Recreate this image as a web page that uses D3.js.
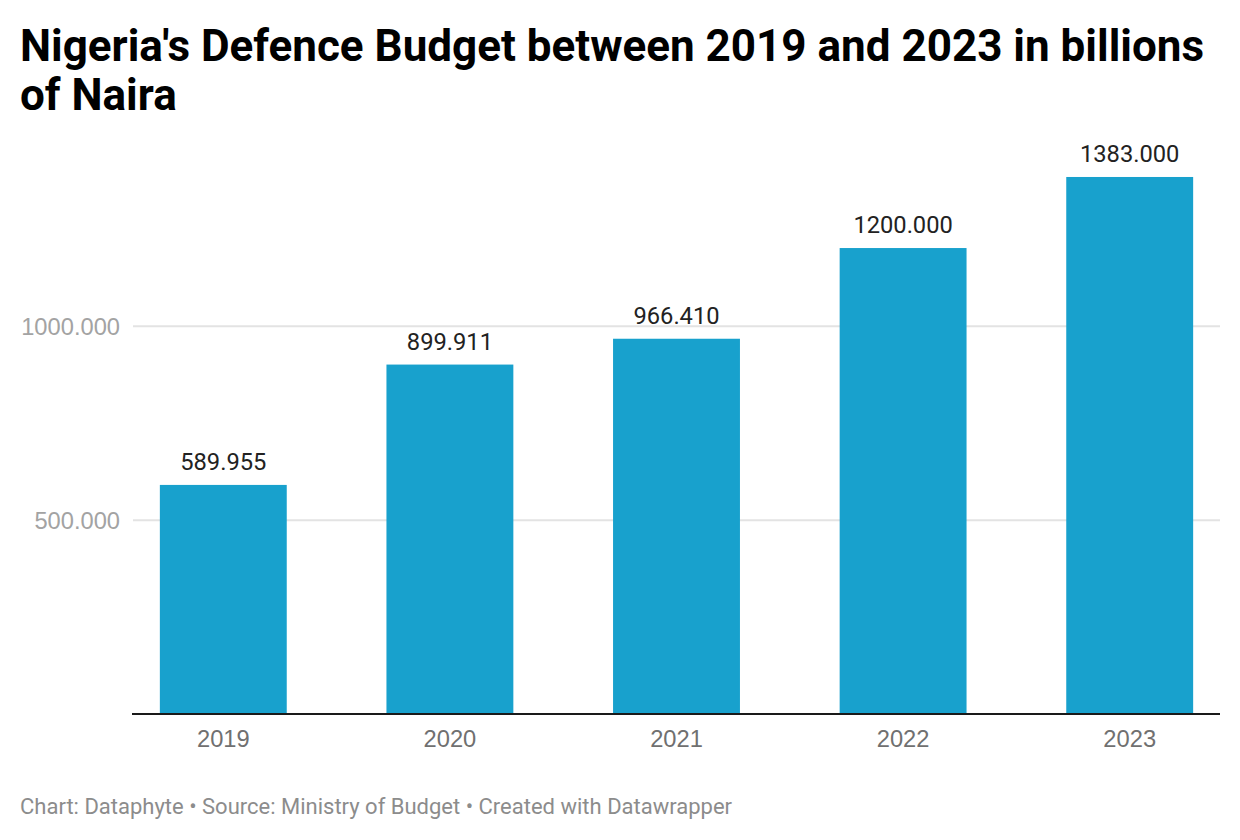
<!DOCTYPE html>
<html>
<head>
<meta charset="utf-8">
<script src="https://cdn.jsdelivr.net/npm/d3@7"></script>
<style>
  body { margin: 0; background: #fff; font-family: Roboto, "Noto Sans", sans-serif; }
  .title { font-weight: 700; font-size: 44px; fill: #000; }
  .ytick text { fill: #a3a3a3; font-size: 23.7px; }
  .xtick text { fill: #707070; font-size: 23.7px; }
  .value { fill: #222; font-size: 23.7px; }
  .footer { fill: #8c8c8c; font-size: 22px; }
</style>
</head>
<body>
<div id="chart"></div>
<script>
// data
var years = ["2019", "2020", "2021", "2022", "2023"];
var budget = [589.955, 899.911, 966.41, 1200, 1383];
var yTicks = [500, 1000];

var width = 1240, height = 840;

var svg = d3.select("#chart")
  .append("svg")
    .attr("width", width)
    .attr("height", height);

// title
var title = svg.append("text").attr("class", "title").attr("x", 20);
title.append("tspan").attr("x", 20).attr("y", 61).text("Nigeria's Defence Budget between 2019 and 2023 in billions");
title.append("tspan").attr("x", 20).attr("y", 110).text("of Naira");

// scales
var x = d3.scaleBand()
  .domain(years)
  .range([110, 1243])
  .paddingInner(0.44)
  .paddingOuter(0.22);

var y = d3.scaleLinear()
  .domain([0, 1000])
  .range([714, 325.7]);

// grid + y labels
var gy = svg.append("g")
  .attr("class", "ytick")
  .attr("transform", "translate(133,0)")
  .call(d3.axisLeft(y).tickValues(yTicks).tickSize(-(1220 - 133)).tickPadding(13).tickFormat(d3.format(".3f")));
gy.select(".domain").remove();
gy.selectAll(".tick line").attr("stroke", "#e3e3e3").attr("stroke-width", 2);
gy.selectAll(".tick text").attr("dy", "0.36em").attr("font-family", null).attr("font-size", null);

// bars
svg.append("g")
  .selectAll("rect")
  .data(budget)
  .enter()
  .append("rect")
    .attr("x", function(d, i) { return x(years[i]); })
    .attr("y", function(d) { return y(d); })
    .attr("width", x.bandwidth())
    .attr("height", function(d) { return y(0) - y(d); })
    .attr("fill", "#18a1cd");

// value labels
svg.append("g")
  .selectAll("text")
  .data(budget)
  .enter()
  .append("text")
    .attr("class", "value")
    .attr("text-anchor", "middle")
    .attr("x", function(d, i) { return x(years[i]) + x.bandwidth() / 2; })
    .attr("y", function(d) { return y(d) - 15; })
    .text(function(d) { return d3.format(".3f")(d); });

// x axis
var gx = svg.append("g")
  .attr("class", "xtick")
  .attr("transform", "translate(0," + y(0) + ")")
  .call(d3.axisBottom(x).tickSize(0).tickPadding(16));
gx.select(".domain").remove();
gx.selectAll(".tick text").attr("font-family", null).attr("font-size", null);

svg.append("line")
  .attr("x1", 132).attr("x2", 1220)
  .attr("y1", y(0)).attr("y2", y(0))
  .attr("stroke", "#1a1a1a")
  .attr("stroke-width", 2);

// footer
svg.append("text")
  .attr("class", "footer")
  .attr("x", 20)
  .attr("y", 814)
  .text("Chart: Dataphyte \u2022 Source: Ministry of Budget \u2022 Created with Datawrapper");
</script>
</body>
</html>
